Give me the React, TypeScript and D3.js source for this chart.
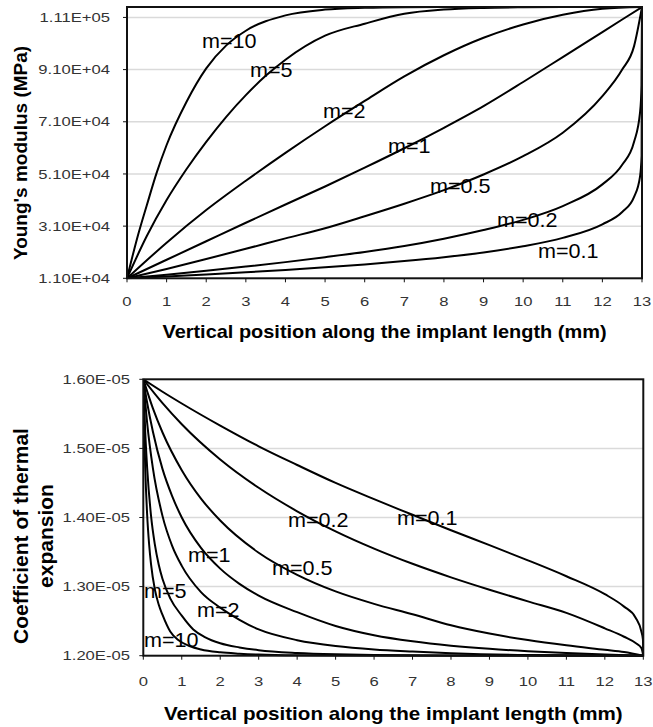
import React from 'react';
import * as d3 from 'd3';

// ---------- data ----------
const xTickValues = [0, 1, 2, 3, 4, 5, 6, 7, 8, 9, 10, 11, 12, 13];

const topYTicks = [11000, 31000, 51000, 71000, 91000, 111000];
const topYTickLabels = ['1.10E+04', '3.10E+04', '5.10E+04', '7.10E+04', '9.10E+04', '1.11E+05'];
const botYTicks = [1.2e-5, 1.3e-5, 1.4e-5, 1.5e-5, 1.6e-5];
const botYTickLabels = ['1.20E-05', '1.30E-05', '1.40E-05', '1.50E-05', '1.60E-05'];

const seriesNames = ['m=10', 'm=5', 'm=2', 'm=1', 'm=0.5', 'm=0.2', 'm=0.1'];

// Young's modulus (MPa) vs position (mm)
const eX_m10 = [0, 0.25, 0.5, 0.75, 1, 1.5, 2, 2.5, 3, 4, 5, 6, 7, 8, 10, 13];
const eY_m10 = [11000, 26000, 39000, 51500, 62100, 78600, 91500, 100200, 105900, 111800, 114000, 114700, 114950, 115000, 115000, 115000];
const eX_m5 = [0, 0.5, 1, 1.5, 2, 2.5, 3, 3.5, 4, 5, 6, 7, 8, 9, 10, 11, 13];
const eY_m5 = [11000, 27200, 41000, 52800, 63300, 72800, 81200, 88600, 94800, 104000, 108600, 112400, 114000, 114650, 114900, 115000, 115000];
const eX_m2 = [0, 1, 2, 3, 4, 5, 6, 7, 8, 9, 10, 11, 12, 13];
const eY_m2 = [11000, 24650, 37150, 48400, 59100, 69300, 79000, 88400, 96500, 103200, 108300, 112000, 114300, 115000];
const eX_m1 = [0, 1, 2, 3, 4, 5, 6, 7, 8, 9, 10, 11, 12, 13];
const eY_m1 = [11000, 18100, 25200, 32300, 39300, 46200, 53400, 60850, 68700, 77000, 86250, 95800, 105400, 115000];
const eX_m05 = [0, 1, 2, 3, 4, 5, 6, 7, 8, 9, 10, 11, 12, 12.5, 12.8, 13];
const eY_m05 = [11000, 14600, 18400, 22300, 26300, 30200, 34800, 39600, 44800, 50800, 57800, 66800, 80800, 91000, 100000, 115000];
const eX_m02 = [0, 1, 2, 3, 4, 5, 6, 7, 8, 9, 10, 11, 12, 12.5, 12.8, 12.95, 12.99, 13];
const eY_m02 = [11000, 12400, 13900, 15500, 17200, 19100, 21100, 23400, 26200, 29500, 33400, 38700, 47000, 54500, 63300, 74500, 85000, 115000];
const eX_m01 = [0, 1, 2, 3, 4, 5, 6, 7, 8, 9, 10, 11, 12, 12.5, 12.8, 12.95, 12.99, 13];
const eY_m01 = [11000, 11700, 12500, 13300, 14200, 15200, 16300, 17600, 19100, 20900, 23300, 26500, 31700, 36400, 42200, 50000, 58000, 115000];

// Coefficient of thermal expansion vs position (mm)
const aX_m10 = [0, 0.02, 0.05, 0.1, 0.15, 0.2, 0.3, 0.4, 0.5, 0.7, 0.9, 1.2, 1.5, 2, 2.5, 3, 4, 6, 13];
const aY_m10 = [1.6e-5, 1.537e-5, 1.472e-5, 1.404e-5, 1.362e-5, 1.333e-5, 1.296e-5, 1.274e-5, 1.259e-5, 1.235e-5, 1.223e-5, 1.214e-5, 1.209e-5, 1.205e-5, 1.203e-5, 1.2016e-5, 1.2005e-5, 1.2e-5, 1.2e-5];
const aX_m5 = [0, 0.05, 0.1, 0.2, 0.3, 0.4, 0.5, 0.7, 1, 1.3, 1.6, 2, 2.5, 3, 4, 5, 6, 8, 13];
const aY_m5 = [1.6e-5, 1.524e-5, 1.472e-5, 1.403e-5, 1.361e-5, 1.332e-5, 1.311e-5, 1.283e-5, 1.258e-5, 1.238e-5, 1.227e-5, 1.218e-5, 1.212e-5, 1.208e-5, 1.204e-5, 1.202e-5, 1.201e-5, 1.2002e-5, 1.2e-5];
const aX_m2 = [0, 0.1, 0.25, 0.5, 0.75, 1, 1.5, 2, 2.5, 3, 4, 5, 6, 7, 8, 10, 13];
const aY_m2 = [1.6e-5, 1.537e-5, 1.471e-5, 1.402e-5, 1.359e-5, 1.33e-5, 1.292e-5, 1.2695e-5, 1.252e-5, 1.238e-5, 1.2225e-5, 1.214e-5, 1.209e-5, 1.206e-5, 1.2036e-5, 1.2009e-5, 1.2e-5];
const aX_m1 = [0, 0.1, 0.25, 0.5, 0.75, 1, 1.5, 2, 2.5, 3, 4, 5, 6, 7, 8, 9, 10, 11, 12, 13];
const aY_m1 = [1.6e-5, 1.566e-5, 1.524e-5, 1.47e-5, 1.431e-5, 1.4e-5, 1.356e-5, 1.326e-5, 1.304e-5, 1.287e-5, 1.263e-5, 1.243e-5, 1.2296e-5, 1.2208e-5, 1.2145e-5, 1.2099e-5, 1.2065e-5, 1.2038e-5, 1.2017e-5, 1.2e-5];
const aX_m05 = [0, 0.25, 0.5, 1, 1.5, 2, 3, 4, 5, 6, 7, 8, 9, 10, 11, 12, 12.5, 13];
const aY_m05 = [1.6e-5, 1.558e-5, 1.523e-5, 1.4685e-5, 1.4274e-5, 1.3956e-5, 1.349e-5, 1.317e-5, 1.293e-5, 1.275e-5, 1.26e-5, 1.244e-5, 1.232e-5, 1.2226e-5, 1.215e-5, 1.2085e-5, 1.2052e-5, 1.2e-5];
const aX_m02 = [0, 0.5, 1, 2, 3, 4, 5, 6, 7, 8, 9, 10, 11, 12, 12.5, 12.8, 12.95, 13];
const aY_m02 = [1.6e-5, 1.5655e-5, 1.535e-5, 1.484e-5, 1.443e-5, 1.409e-5, 1.38e-5, 1.355e-5, 1.333e-5, 1.3134e-5, 1.2955e-5, 1.2786e-5, 1.262e-5, 1.2396e-5, 1.2274e-5, 1.2183e-5, 1.2111e-5, 1.2e-5];
const aX_m01 = [0, 0.5, 1, 2, 3, 4, 5, 6, 7, 8, 9, 10, 11, 12, 12.5, 12.8, 12.95, 12.99, 13];
const aY_m01 = [1.6e-5, 1.582e-5, 1.565e-5, 1.533e-5, 1.503e-5, 1.476e-5, 1.45e-5, 1.4265e-5, 1.404e-5, 1.3815e-5, 1.36e-5, 1.338e-5, 1.315e-5, 1.289e-5, 1.271e-5, 1.255e-5, 1.235e-5, 1.2235e-5, 1.2e-5];

const xTitle = 'Vertical position along the implant length (mm)';
const topYTitle = "Young's modulus (MPa)";
const botYTitle1 = 'Coefficient of thermal';
const botYTitle2 = 'expansion';

// ---------- layout ----------
const FONT = "'Liberation Sans', Arial, Helvetica, sans-serif";
const TOP = { l: 127, r: 642, t: 7, b: 278.3 };
const BOT = { l: 143.3, r: 643.3, t: 379.3, b: 655.7 };
const topLabelPos: [number, number][] = [[202, 48], [250, 77], [323, 118], [388, 153], [430, 193], [497, 227], [538, 258]];
const botLabelPos: [number, number][] = [[144, 647], [144, 598], [197, 617], [188, 562], [272, 575], [288, 527], [397, 525]];

type TProps = { x: number; y: number; sx?: number; anchor?: string; size: number; bold?: boolean; rotate?: boolean; fill?: string; children: React.ReactNode };
function T({ x, y, sx = 1, anchor = 'start', size, bold, rotate, fill = '#000', children }: TProps) {
  const tr = rotate ? `translate(${x},${y}) rotate(-90) scale(1,${sx})` : `translate(${x},${y}) scale(${sx},1)`;
  return (
    <text transform={tr} textAnchor={anchor as any} fontSize={size} fontWeight={bold ? 'bold' : 'normal'} fontFamily={FONT} fill={fill}>
      {children}
    </text>
  );
}

function zip(xs: number[], ys: number[]): [number, number][] {
  return xs.map((x, i) => [x, ys[i]]);
}

export default function App() {
  const xTop = d3.scaleLinear().domain([0, 13]).range([TOP.l, TOP.r]);
  const yTop = d3.scaleLinear().domain([11000, 115000]).range([TOP.b, TOP.t]);
  const xBot = d3.scaleLinear().domain([0, 13]).range([BOT.l, BOT.r]);
  const yBot = d3.scaleLinear().domain([1.2e-5, 1.6e-5]).range([BOT.b, BOT.t]);

  const topSeries = [zip(eX_m10, eY_m10), zip(eX_m5, eY_m5), zip(eX_m2, eY_m2), zip(eX_m1, eY_m1), zip(eX_m05, eY_m05), zip(eX_m02, eY_m02), zip(eX_m01, eY_m01)];
  const botSeries = [zip(aX_m10, aY_m10), zip(aX_m5, aY_m5), zip(aX_m2, aY_m2), zip(aX_m1, aY_m1), zip(aX_m05, aY_m05), zip(aX_m02, aY_m02), zip(aX_m01, aY_m01)];

  const lineTop = d3.line<[number, number]>().x(d => xTop(d[0])).y(d => yTop(d[1])).curve(d3.curveMonotoneX);
  const lineBot = d3.line<[number, number]>().x(d => xBot(d[0])).y(d => yBot(d[1])).curve(d3.curveMonotoneX);

  const tickColor = '#333';
  const gridColor = '#dadada';

  return (
    <svg width={653} height={727} style={{ position: 'absolute', left: 0, top: 0, background: '#fff' }}>
      <rect x={0} y={0} width={653} height={727} fill="#fff" />
      <defs>
        <clipPath id="clipTop"><rect x={TOP.l} y={TOP.t - 1} width={TOP.r - TOP.l} height={TOP.b - TOP.t + 2} /></clipPath>
        <clipPath id="clipBot"><rect x={BOT.l} y={BOT.t - 1} width={BOT.r - BOT.l} height={BOT.b - BOT.t + 2} /></clipPath>
      </defs>

      {/* ---------- TOP CHART ---------- */}
      {topYTicks.slice(1).map(v => (
        <line key={'tg' + v} x1={TOP.l} x2={TOP.r} y1={yTop(v)} y2={yTop(v)} stroke={gridColor} strokeWidth={1.5} />
      ))}
      <g clipPath="url(#clipTop)">
        {topSeries.map((s, i) => (
          <path key={'tl' + i} d={lineTop(s) || ''} fill="none" stroke="#000" strokeWidth={2} />
        ))}
      </g>
      <rect x={TOP.l} y={TOP.t} width={TOP.r - TOP.l} height={TOP.b - TOP.t} fill="none" stroke="#111" strokeWidth={2} />
      {topYTicks.map((v, i) => (
        <g key={'ty' + v}>
          <line x1={TOP.l - 4} x2={TOP.l} y1={yTop(v)} y2={yTop(v)} stroke="#111" strokeWidth={1} />
          <T x={110} y={yTop(v) + 4.7} anchor="end" size={13} sx={1.28} fill={tickColor}>{topYTickLabels[i]}</T>
        </g>
      ))}
      {xTickValues.map(v => (
        <g key={'tx' + v}>
          <line x1={xTop(v)} x2={xTop(v)} y1={TOP.b} y2={TOP.b + 4} stroke="#111" strokeWidth={1} />
          <T x={xTop(v)} y={306} anchor="middle" size={13} sx={1.28} fill={tickColor}>{String(v)}</T>
        </g>
      ))}
      <T x={(TOP.l + TOP.r) / 2} y={338} anchor="middle" size={17.5} sx={1.14} bold>{xTitle}</T>
      <T x={27} y={153} anchor="middle" size={19} bold rotate>{topYTitle}</T>
      {seriesNames.map((n, i) => (
        <T key={'tn' + n} x={topLabelPos[i][0]} y={topLabelPos[i][1]} size={20} sx={1.08}>{n}</T>
      ))}

      {/* ---------- BOTTOM CHART ---------- */}
      {botYTicks.slice(1, -1).map(v => (
        <line key={'bg' + v} x1={BOT.l} x2={BOT.r} y1={yBot(v)} y2={yBot(v)} stroke={gridColor} strokeWidth={1.5} />
      ))}
      <g clipPath="url(#clipBot)">
        {botSeries.map((s, i) => (
          <path key={'bl' + i} d={lineBot(s) || ''} fill="none" stroke="#000" strokeWidth={2} />
        ))}
      </g>
      <rect x={BOT.l} y={BOT.t} width={BOT.r - BOT.l} height={BOT.b - BOT.t} fill="none" stroke="#111" strokeWidth={2} />
      {botYTicks.map((v, i) => (
        <g key={'by' + v}>
          <line x1={BOT.l - 4} x2={BOT.l} y1={yBot(v)} y2={yBot(v)} stroke="#111" strokeWidth={1} />
          <T x={130} y={yBot(v) + 4.7} anchor="end" size={13} sx={1.28} fill={tickColor}>{botYTickLabels[i]}</T>
        </g>
      ))}
      {xTickValues.map(v => (
        <g key={'bx' + v}>
          <line x1={xBot(v)} x2={xBot(v)} y1={BOT.b} y2={BOT.b + 4} stroke="#111" strokeWidth={1} />
          <T x={xBot(v)} y={686} anchor="middle" size={13} sx={1.28} fill={tickColor}>{String(v)}</T>
        </g>
      ))}
      <T x={(BOT.l + BOT.r) / 2} y={720} anchor="middle" size={18} sx={1.145} bold>{xTitle}</T>
      <T x={28} y={536} anchor="middle" size={21} bold rotate>{botYTitle1}</T>
      <T x={53} y={536} anchor="middle" size={21} bold rotate>{botYTitle2}</T>
      {seriesNames.map((n, i) => (
        <T key={'bn' + n} x={botLabelPos[i][0]} y={botLabelPos[i][1]} size={20} sx={1.08}>{n}</T>
      ))}
    </svg>
  );
}
